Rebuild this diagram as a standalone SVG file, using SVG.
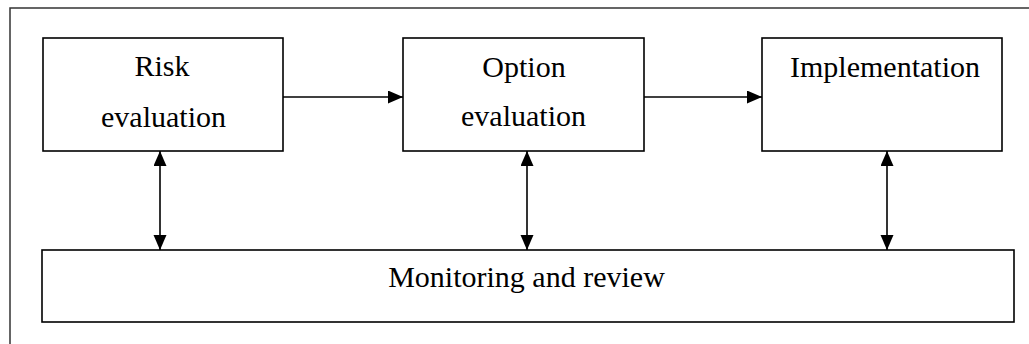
<svg xmlns="http://www.w3.org/2000/svg" width="1029" height="344" viewBox="0 0 1029 344">
  <style>
    .box { fill: #ffffff; stroke: #000000; stroke-width: 1.6; }
    .frame { fill: none; stroke: #333333; stroke-width: 1.5; }
    .link { fill: none; stroke: #000000; stroke-width: 1.6; }
    .label { font-family: "Liberation Serif", "Times New Roman", serif; font-size: 30px; fill: #000000; text-anchor: middle; }
  </style>
  <defs>
    <marker id="head" markerUnits="userSpaceOnUse" markerWidth="16" markerHeight="14" refX="15" refY="6.5" orient="auto-start-reverse">
      <path d="M0,0 L15,6.5 L0,13 Z" fill="#000000"/>
    </marker>
  </defs>
  <rect width="1029" height="344" fill="#ffffff"/>

  <!-- outer frame (left and top edges) -->
  <path class="frame" d="M10,344 L10,8 L1029,8"/>

  <g id="risk-evaluation">
    <rect class="box" x="43" y="38" width="240" height="113"/>
    <text class="label" x="162" y="76">Risk</text>
    <text class="label" x="163.5" y="127">evaluation</text>
  </g>

  <g id="option-evaluation">
    <rect class="box" x="403" y="38" width="241" height="113"/>
    <text class="label" x="524" y="77">Option</text>
    <text class="label" x="523.5" y="126">evaluation</text>
  </g>

  <g id="implementation">
    <rect class="box" x="762" y="38" width="240" height="113"/>
    <text class="label" x="885" y="77">Implementation</text>
  </g>

  <g id="monitoring-review">
    <rect class="box" x="42" y="250" width="972" height="72"/>
    <text class="label" x="526.5" y="287">Monitoring and review</text>
  </g>

  <g id="connectors">
    <line class="link" x1="283" y1="97" x2="403" y2="97" marker-end="url(#head)"/>
    <line class="link" x1="644" y1="97" x2="762" y2="97" marker-end="url(#head)"/>
    <line class="link" x1="160" y1="151" x2="160" y2="250" marker-start="url(#head)" marker-end="url(#head)"/>
    <line class="link" x1="527" y1="151" x2="527" y2="250" marker-start="url(#head)" marker-end="url(#head)"/>
    <line class="link" x1="887" y1="151" x2="887" y2="250" marker-start="url(#head)" marker-end="url(#head)"/>
  </g>
</svg>
